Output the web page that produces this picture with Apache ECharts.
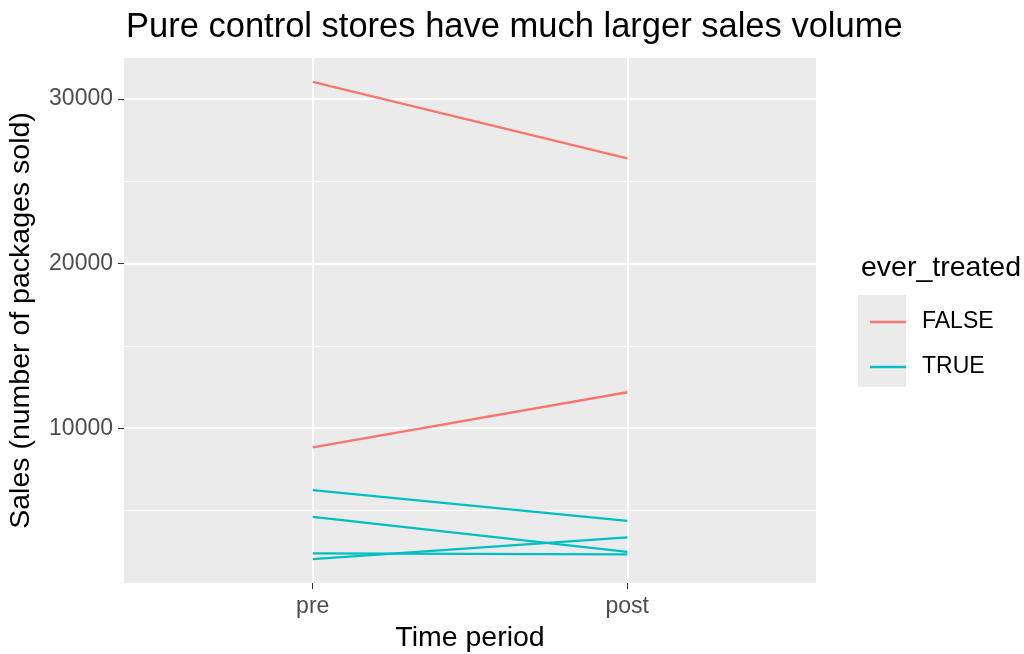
<!DOCTYPE html>
<html><head><meta charset="utf-8">
<script src="https://cdn.jsdelivr.net/npm/echarts@6/dist/echarts.min.js"></script>
<style>html,body{margin:0;padding:0;background:#fff}#c{width:1024px;height:654px}</style>
</head><body><div id="c"></div>
<script>
const periods = ['pre', 'post'];
const groups = ['FALSE', 'FALSE', 'TRUE', 'TRUE', 'TRUE', 'TRUE'];
const preSales = [31030, 8842, 6246, 4623, 2398, 2052];
const postSales = [26386, 12185, 4380, 2495, 2337, 3371];
const yTicks = [10000, 20000, 30000];
const yMinor = [5000, 15000, 25000];
const colors = { 'FALSE': '#F8766D', 'TRUE': '#00BFC4' };

const allV = preSales.concat(postSales);
const vmin = Math.min(...allV), vmax = Math.max(...allV);
const pad = (vmax - vmin) * 0.05;
const FONT = 'Liberation Sans, Arial, sans-serif';

const series = [{
  type: 'line', data: [], z: 1, silent: true,
  markLine: {
    z: 1, silent: true, symbol: 'none', label: { show: false }, animation: false,
    data: [
      ...yMinor.map(v => ({ yAxis: v, lineStyle: { color: '#fff', width: 1, type: 'solid' } })),
      ...yTicks.map(v => ({ yAxis: v, lineStyle: { color: '#fff', width: 2, type: 'solid' } })),
      ...periods.map((p, i) => ({ xAxis: i + 1, lineStyle: { color: '#fff', width: 2, type: 'solid' } }))
    ]
  }
}];
groups.forEach((g, i) => {
  series.push({
    name: g, type: 'line', z: 3, symbol: 'none', animation: false,
    lineStyle: { color: colors[g], width: 2.3 }, itemStyle: { color: colors[g] },
    data: [[1, preSales[i]], [2, postSales[i]]]
  });
});

const chart = echarts.init(document.getElementById('c'));
chart.setOption({
  backgroundColor: '#fff',
  animation: false,
  title: { text: 'Pure control stores have much larger sales volume', left: 121, top: 5,
    textStyle: { fontFamily: FONT, fontSize: 34.5, fontWeight: 'normal', color: '#000' } },
  grid: { left: 124, right: 208, top: 58, bottom: 71, outerBoundsMode: 'none', containLabel: false,
    show: true, backgroundColor: '#EBEBEB', borderWidth: 0 },
  xAxis: {
    type: 'value', min: 0.4, max: 2.6,
    name: 'Time period', nameLocation: 'middle', nameGap: 41,
    nameTextStyle: { fontFamily: FONT, fontSize: 28.5, color: '#000' },
    axisLine: { show: false },
    axisTick: { show: true, customValues: [1, 2], length: 6, lineStyle: { color: '#333', width: 1 } },
    axisLabel: { customValues: [1, 2], formatter: v => periods[Math.round(v) - 1] || '', fontFamily: FONT, fontSize: 23, color: '#4D4D4D', margin: 12 },
    splitLine: { show: false }
  },
  yAxis: {
    type: 'value', min: vmin - pad, max: vmax + pad,
    name: 'Sales (number of packages sold)', nameLocation: 'middle', nameGap: 88, nameRotate: 90,
    nameTextStyle: { fontFamily: FONT, fontSize: 28.5, color: '#000' },
    axisLine: { show: false },
    axisTick: { show: true, customValues: yTicks, length: 6, lineStyle: { color: '#333', width: 1 } },
    axisLabel: { customValues: yTicks, formatter: v => String(v), fontFamily: FONT, fontSize: 23, color: '#4D4D4D', margin: 11 },
    splitLine: { show: false }
  },
  legend: {
    orient: 'vertical', left: 865, top: 305, itemGap: 21, itemWidth: 36, itemHeight: 2.5,
    icon: 'rect', data: ['FALSE', 'TRUE'],
    textStyle: { fontFamily: FONT, fontSize: 23, lineHeight: 24, color: '#000', padding: [0, 0, 0, 11] },
    selectedMode: false
  },
  graphic: [
    { type: 'rect', left: 858, top: 295, z: -1, shape: { width: 48, height: 92 }, style: { fill: '#EBEBEB' } },
    { type: 'text', left: 861, top: 254, style: { text: 'ever_treated', fontFamily: FONT, fontSize: 28.5, fill: '#000' } }
  ],
  series: series
});
</script></body></html>
